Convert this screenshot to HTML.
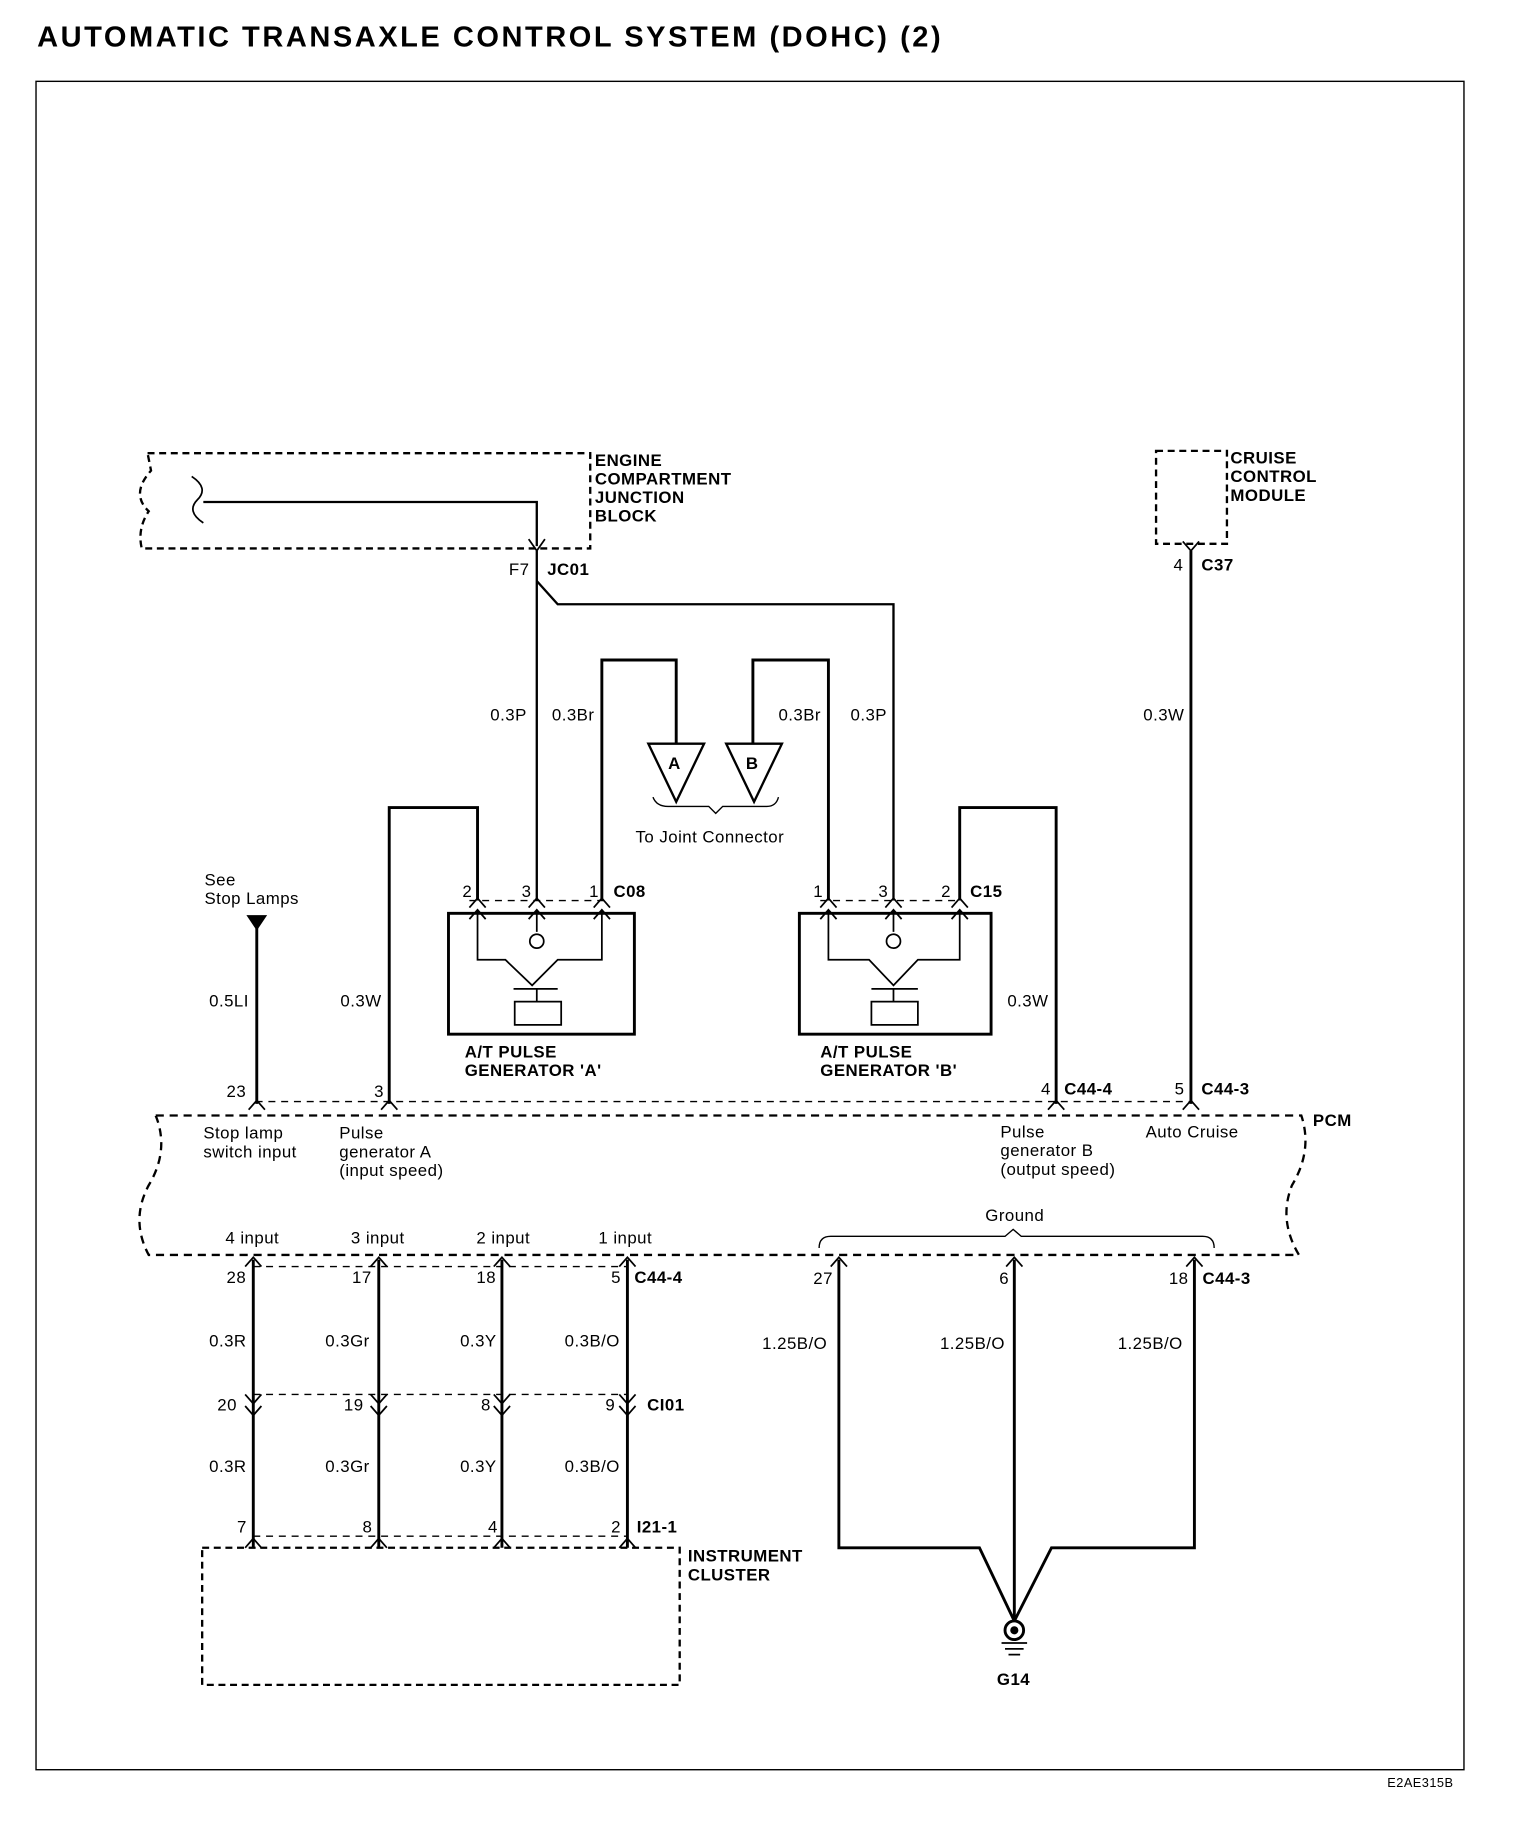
<!DOCTYPE html>
<html><head><meta charset="utf-8"><style>
html,body{margin:0;padding:0;background:#fff;}
svg{display:block;}
text{font-family:"Liberation Sans",Arial,sans-serif;font-size:14.5px;letter-spacing:0.4px;fill:#000;}
.b{font-weight:bold;}
</style></head><body>
<svg width="1536" height="1822" viewBox="0 0 1322 1568" preserveAspectRatio="none" xmlns="http://www.w3.org/2000/svg">
<g fill="none" stroke="#000">
<rect x="31" y="70" width="1229" height="1453" stroke-width="1.2"/>
<path d="M127 390 H508 V472 H122 Q118 455 128 440 Q112 425 130 405 Z" stroke-width="2" stroke-dasharray="6,4"/>
<path d="M165 410 Q180 420 170 430 Q160 440 175 450" stroke-width="1.5"/>
<path d="M175 432 H462 V470" stroke-width="2"/>
<path d="M455 464 L462 474 L469 464" stroke-width="1.5"/>
<path d="M462 474 V775" stroke-width="2"/>
<path d="M462 500 L480 520 H769 V775" stroke-width="2"/>
<path d="M518 775 V568 H582 V640" stroke-width="2.5"/>
<path d="M648 640 V568 H713 V775" stroke-width="2.5"/>
<path d="M558 640 H606 L582 690 Z M625 640 H673 L649 690 Z" stroke-width="2"/>
<path d="M562 686 Q565 694 575 694 H610 L616 700 L622 694 H660 Q668 694 670 686" stroke-width="1.2"/>
<path d="M411 775 V695 H335 V950" stroke-width="2.5"/>
<path d="M826 775 V695 H909 V950" stroke-width="2.5"/>
<rect x="386" y="786" width="160" height="104" stroke-width="2.5"/>
<rect x="688" y="786" width="165" height="104" stroke-width="2.5"/>
<path d="M404 775 H520 M706 775 H828" stroke-width="1.2" stroke-dasharray="6,5"/>
<path d="M404 781 L411 773 L418 781 M455 781 L462 773 L469 781 M511 781 L518 773 L525 781 M404 791 L411 783 L418 791 M455 791 L462 783 L469 791 M511 791 L518 783 L525 791" stroke-width="1.5"/>
<path d="M706 781 L713 773 L720 781 M762 781 L769 773 L776 781 M819 781 L826 773 L833 781 M706 791 L713 783 L720 791 M762 791 L769 783 L776 791 M819 791 L826 783 L833 791" stroke-width="1.5"/>
<path d="M411 783 V826 H435 L458 848 L480 826 H518 V783 M462 783 V802" stroke-width="1.5"/>
<circle cx="462" cy="810" r="6" stroke-width="1.5"/>
<path d="M442 851 H480 M462 851 V862" stroke-width="1.5"/>
<rect x="443" y="862" width="40" height="20" stroke-width="1.5"/>
<path d="M713 783 V826 H748 L769 848 L790 826 H826 V783 M769 783 V802" stroke-width="1.5"/>
<circle cx="769" cy="810" r="6" stroke-width="1.5"/>
<path d="M750 851 H790 M769 851 V862" stroke-width="1.5"/>
<rect x="750" y="862" width="40" height="20" stroke-width="1.5"/>
<path d="M221 796 V950" stroke-width="2.5"/>
<path d="M213 788 H229 L221 800 Z" fill="#000"/>
<rect x="995" y="388" width="61" height="80" stroke-width="2" stroke-dasharray="6,4"/>
<path d="M1018 466 L1025 474 L1032 466" stroke-width="1.5"/>
<path d="M1025 474 V950" stroke-width="2.5"/>
<path d="M220 948 H1025" stroke-width="1.2" stroke-dasharray="6,5"/>
<path d="M214 955 L221 947 L228 955 M328 955 L335 947 L342 955 M902 955 L909 947 L916 955 M1018 955 L1025 947 L1032 955" stroke-width="1.5"/>
<path d="M134 960 H1120 Q1130 990 1112 1020 Q1100 1050 1118 1080 H128 Q112 1050 128 1020 Q146 990 134 960" stroke-width="2" stroke-dasharray="7,5"/>
<path d="M705 1074 Q705 1064 715 1064 H865 L872 1058 L879 1064 H1035 Q1045 1064 1045 1074" stroke-width="1.2"/>
<path d="M218 1084 V1332 M326 1084 V1332 M432 1084 V1332 M540 1084 V1332" stroke-width="2.5"/>
<path d="M218 1090 H540 M218 1200 H540 M218 1322 H540" stroke-width="1.2" stroke-dasharray="6,5"/>
<g stroke-width="1.5">
<path d="M211 1090 L218 1082 L225 1090 M319 1090 L326 1082 L333 1090 M425 1090 L432 1082 L439 1090 M533 1090 L540 1082 L547 1090"/>
<path d="M211 1200 L218 1208 L225 1200 M319 1200 L326 1208 L333 1200 M425 1200 L432 1208 L439 1200 M533 1200 L540 1208 L547 1200"/>
<path d="M211 1210 L218 1218 L225 1210 M319 1210 L326 1218 L333 1210 M425 1210 L432 1218 L439 1210 M533 1210 L540 1218 L547 1210"/>
<path d="M211 1332 L218 1324 L225 1332 M319 1332 L326 1324 L333 1332 M425 1332 L432 1324 L439 1332 M533 1332 L540 1324 L547 1332"/>
<path d="M715 1090 L722 1082 L729 1090 M866 1090 L873 1082 L880 1090 M1021 1090 L1028 1082 L1035 1090"/>
</g>
<rect x="174" y="1332" width="411" height="118" stroke-width="2" stroke-dasharray="6,4"/>
<path d="M722 1084 V1332 H843 L873 1395 M1028 1084 V1332 H905 L873 1395 M873 1084 V1395" stroke-width="2.5"/>
<circle cx="873" cy="1403" r="8" stroke-width="2.5"/>
<circle cx="873" cy="1403" r="3" fill="#000"/>
<path d="M862 1414 H884 M865 1419 H881 M868 1424 H878" stroke-width="1.5"/>
</g>
<text x="32" y="40" class="b" style="font-size:25px" textLength="778" lengthAdjust="spacing">AUTOMATIC TRANSAXLE CONTROL SYSTEM (DOHC) (2)</text>
<text x="1194" y="1538" style="font-size:11px">E2AE315B</text>
<text x="512" y="401" class="b">ENGINE</text><text x="512" y="417" class="b">COMPARTMENT</text><text x="512" y="433" class="b">JUNCTION</text><text x="512" y="449" class="b">BLOCK</text>
<text x="1059" y="399" class="b">CRUISE</text><text x="1059" y="415" class="b">CONTROL</text><text x="1059" y="431" class="b">MODULE</text>
<text x="471" y="495" class="b">JC01</text><text x="1034" y="491" class="b">C37</text>
<text x="528" y="772" class="b">C08</text><text x="835" y="772" class="b">C15</text>
<text x="400" y="910" class="b">A/T PULSE</text><text x="400" y="926" class="b">GENERATOR 'A'</text>
<text x="706" y="910" class="b">A/T PULSE</text><text x="706" y="926" class="b">GENERATOR 'B'</text>
<text x="916" y="942" class="b">C44-4</text><text x="1034" y="942" class="b">C44-3</text>
<text x="1130" y="969" class="b">PCM</text>
<text x="546" y="1104" class="b">C44-4</text><text x="557" y="1214" class="b">CI01</text><text x="548" y="1319" class="b">I21-1</text>
<text x="1035" y="1105" class="b">C44-3</text>
<text x="592" y="1344" class="b">INSTRUMENT</text><text x="592" y="1360" class="b">CLUSTER</text>
<text x="858" y="1450" class="b">G14</text>
<text x="438" y="495">F7</text><text x="1010" y="491">4</text>
<text x="422" y="620">0.3P</text><text x="475" y="620">0.3Br</text>
<text x="670" y="620">0.3Br</text><text x="732" y="620">0.3P</text>
<text x="984" y="620">0.3W</text>
<text x="575" y="662" class="b">A</text><text x="642" y="662" class="b">B</text>
<text x="547" y="725">To Joint Connector</text>
<text x="176" y="762">See</text><text x="176" y="778">Stop Lamps</text>
<text x="398" y="772">2</text><text x="449" y="772">3</text><text x="507" y="772">1</text>
<text x="700" y="772">1</text><text x="756" y="772">3</text><text x="810" y="772">2</text>
<text x="180" y="866">0.5LI</text><text x="293" y="866">0.3W</text><text x="867" y="866">0.3W</text>
<text x="195" y="944">23</text><text x="322" y="944">3</text><text x="896" y="942">4</text><text x="1011" y="942">5</text>
<text x="175" y="980">Stop lamp</text><text x="175" y="996">switch input</text>
<text x="292" y="980">Pulse</text><text x="292" y="996">generator A</text><text x="292" y="1012">(input speed)</text>
<text x="861" y="979">Pulse</text><text x="861" y="995">generator B</text><text x="861" y="1011">(output speed)</text>
<text x="986" y="979">Auto Cruise</text>
<text x="194" y="1070">4 input</text><text x="302" y="1070">3 input</text><text x="410" y="1070">2 input</text><text x="515" y="1070">1 input</text>
<text x="848" y="1051">Ground</text>
<text x="195" y="1104">28</text><text x="303" y="1104">17</text><text x="410" y="1104">18</text><text x="526" y="1104">5</text>
<text x="180" y="1159">0.3R</text><text x="280" y="1159">0.3Gr</text><text x="396" y="1159">0.3Y</text><text x="486" y="1159">0.3B/O</text>
<text x="187" y="1214">20</text><text x="296" y="1214">19</text><text x="414" y="1214">8</text><text x="521" y="1214">9</text>
<text x="180" y="1267">0.3R</text><text x="280" y="1267">0.3Gr</text><text x="396" y="1267">0.3Y</text><text x="486" y="1267">0.3B/O</text>
<text x="204" y="1319">7</text><text x="312" y="1319">8</text><text x="420" y="1319">4</text><text x="526" y="1319">2</text>
<text x="700" y="1105">27</text><text x="860" y="1105">6</text><text x="1006" y="1105">18</text>
<text x="656" y="1161">1.25B/O</text><text x="809" y="1161">1.25B/O</text><text x="962" y="1161">1.25B/O</text>
</svg>
</body></html>
